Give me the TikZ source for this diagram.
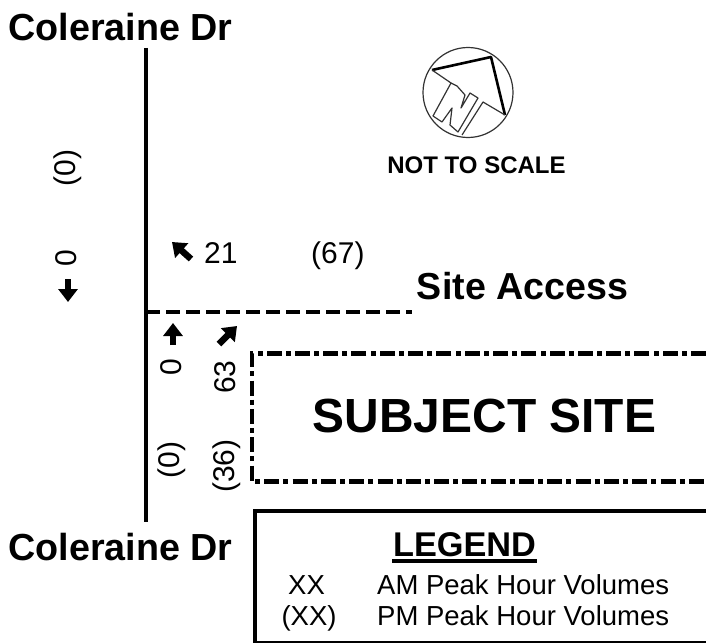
\documentclass[tikz,border=0pt]{standalone}
\usepackage{fontspec}
\setmainfont{Liberation Sans}
\usetikzlibrary{arrows.meta}
\tikzset{
  lbl/.style={inner sep=0pt,font=\fontsize{#1}{#1}\selectfont},
  blbl/.style={inner sep=0pt,font=\fontsize{#1}{#1}\selectfont\bfseries},
  road/.style={line width=4pt},
  minor/.style={line width=3.6pt,dash pattern=on 14pt off 6pt},
  site/.style={line width=4.2pt,dash pattern=on 15pt off 4pt on 5pt off 4.3pt},
  mv/.style={line width=6.5pt,-{Triangle[length=13pt,width=19pt]}},
  comp/.style={line width=1.2pt,black!80,line join=round},
}
\begin{document}
\begin{tikzpicture}[x=1pt,y=-1pt]
\useasboundingbox (0,0) rectangle (706,642);
\fill[white] (0,0) rectangle (706,642);
\node[blbl=37.7] (t1) at (120.5,27) {Coleraine Dr};
\node[blbl=37.7] (t2) at (120.5,547) {Coleraine Dr};
\coordinate (rt) at (146,48);
\coordinate (rb) at (146,522);
\draw[road] (rt) -- (rb);
\coordinate (ma) at (146,312);
\coordinate (mb) at (412,312);
\draw[minor] (ma) -- (mb);
\node[blbl=37.6] (sa) at (522.5,286) {Site Access};
% compass
\draw[comp] (468,92.5) circle (45);
\draw[line width=2.6pt,line join=round] (432,70) -- (491,57) -- (505,115);
\draw[comp] (432,70) -- (451,83);
\draw[comp] (451,83) -- (433,116) -- (442,122) -- (452,108) -- (450,125) -- (458,132) -- (478,98) -- (470,93) -- (461,108) -- (465,95) -- (457,86) -- cycle;
\draw[comp] (505,115) -- (483,102) -- (462,135);
\node[blbl=24] (nts) at (476.5,165) {NOT TO SCALE};
% volumes
\node[lbl=30,rotate=90] (v1) at (68,168) {(0)};
\node[lbl=30,rotate=90] (v2) at (66.5,258) {0};
\coordinate (a1s) at (68,279); \coordinate (a1e) at (68,302);
\draw[mv] (a1s) -- (a1e);
\coordinate (a2s) at (191,259); \coordinate (a2e) at (172,242);
\draw[mv] (a2s) -- (a2e);
\node[lbl=30,anchor=base west] (v3) at (204,263) {21};
\node[lbl=30,anchor=base west] (v4) at (311,263) {(67)};
\coordinate (a3s) at (173,345); \coordinate (a3e) at (173,323);
\draw[mv] (a3s) -- (a3e);
\coordinate (a4s) at (219,344); \coordinate (a4e) at (237,326);
\draw[mv] (a4s) -- (a4e);
\node[lbl=30,rotate=90] (v5) at (171.5,367.5) {0};
\node[lbl=30,rotate=90] (v6) at (225,377) {63};
\node[lbl=30,rotate=90] (v7) at (172,460) {(0)};
\node[lbl=30,rotate=90] (v8) at (227,466) {(36)};
% site
\coordinate (s1) at (706,353.5); \coordinate (s2) at (252,353.5);
\coordinate (s3) at (252,481.5); \coordinate (s4) at (706,481.5);
\draw[site] (s1) -- (s2) -- (s3) -- (s4);
\node[blbl=47.9] (ss) at (484.5,416) {SUBJECT SITE};
% legend
\node[draw,line width=4pt,outer sep=0pt,minimum width=460pt,minimum height=132pt,anchor=north west,inner sep=0pt] (lg) at (254.5,510.5) {};
\node[blbl=34.3,anchor=base] (lt) at (464.5,556) {LEGEND};
\coordinate (u1) at (392,561);
\coordinate (u2) at (537,561);
\draw[line width=4pt] (u1) -- (u2);
\node[lbl=27.5,anchor=base] (x1) at (306.5,594.5) {XX};
\node[lbl=27.5,anchor=base west] (x2) at (377,594.5) {AM Peak Hour Volumes};
\node[lbl=27.5,anchor=base] (x3) at (309,625) {(XX)};
\node[lbl=27.5,anchor=base west] (x4) at (377,625) {PM Peak Hour Volumes};
\end{tikzpicture}
\end{document}
